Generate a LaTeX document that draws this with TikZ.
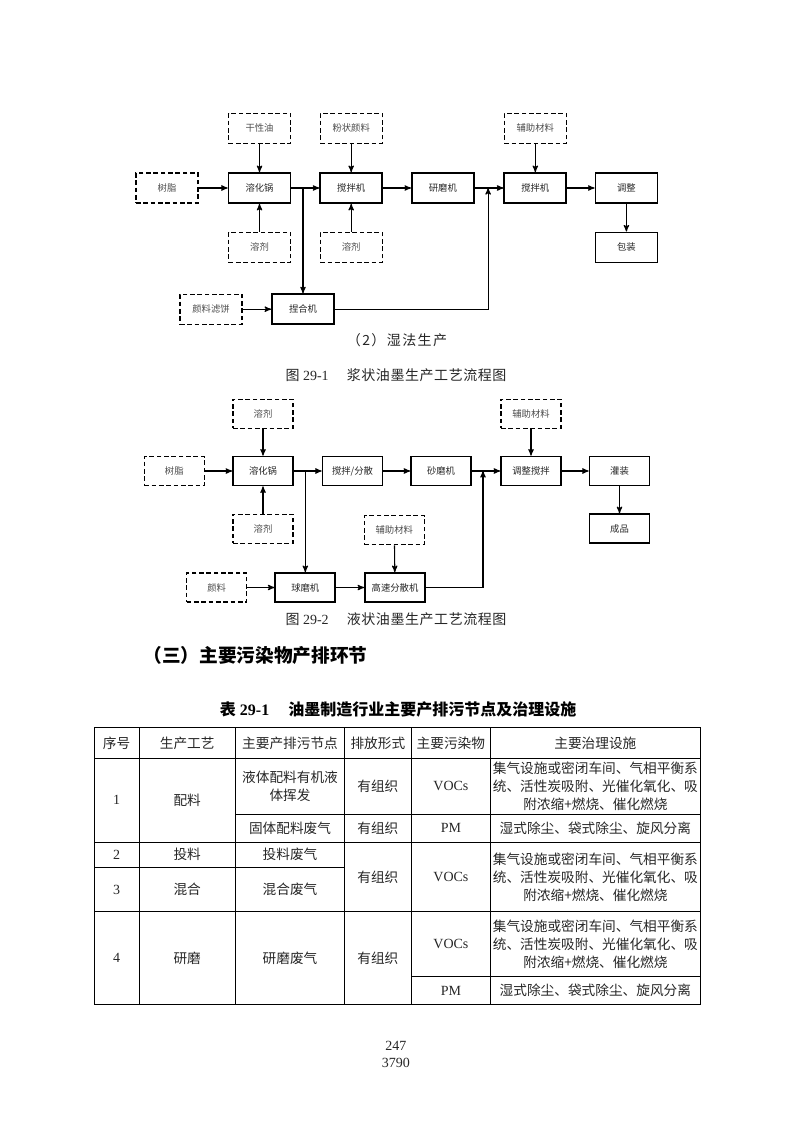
\documentclass[tikz,border=0pt]{standalone}
\usepackage{fontspec}
\setmainfont{Liberation Serif}
\newfontfamily\cjk{Noto Sans CJK SC}
\newfontfamily\cjkwide{Noto Sans CJK SC}[LetterSpace=10]
\newfontfamily\cjkcap{Noto Sans CJK SC}[LetterSpace=4]
\usetikzlibrary{arrows}

\begin{document}
\begin{tikzpicture}[->,>=stealth'
	,x=0.75pt,y=-0.75pt
	,line width=0.8pt]
  \tikzstyle{every node}=[font=\cjk\fontsize{7pt}{8pt}\selectfont]
  \tikzstyle{unit}=[draw,line width=1.3pt,text=black!85,minimum width=46.5pt,minimum height=22.5pt,inner sep=1pt]
  \tikzstyle{feed}=[draw,line width=0.9pt,dash pattern=on 3.5pt off 2pt,text=black!70,minimum width=46.5pt,minimum height=22.5pt,inner sep=1pt]
  \tikzstyle{small}=[minimum width=45pt,minimum height=21.75pt]
  \tikzstyle{caption}=[font=\rmfamily\fontsize{10.5pt}{12pt}\selectfont,text=black!85,inner sep=0pt]
  \tikzstyle{cell}=[font=\cjk\fontsize{10.25pt}{13.5pt}\selectfont,text=black!85,align=center,inner sep=0pt]
  \tikzstyle{lcell}=[font=\rmfamily\fontsize{10.5pt}{13.5pt}\selectfont,text=black!85,inner sep=0pt]
  \tikzstyle{rule}=[-,line width=0.7pt]

  \useasboundingbox (0,0) rectangle (794,1123);

  %wet process, top feeds
  \node[feed] (gxy) at (259.5,128.4) {干性油};
  \node[feed] (fzyl) at (351.2,128.4) {粉状颜料};
  \node[feed] (fzcl) at (535.3,128.4) {辅助材料};
  %main line
  \node[feed] (sz) at (167,188) {树脂};
  \node[unit] (rhg) at (259.5,188) {溶化锅};
  \node[unit] (jbj) at (351.2,188) {搅拌机};
  \node[unit] (ymj) at (442.9,188) {研磨机};
  \node[unit] (jbjb) at (535.3,188) {搅拌机};
  \node[unit] (tz) at (626.4,188) {调整};
  %lower feeds
  \node[feed] (rj) at (259.5,247.4) {溶剂};
  \node[feed] (rjb) at (351.2,247.4) {溶剂};
  \node[unit] (bz) at (626.4,247.4) {包装};
  \node[feed] (ylbl) at (211,309.2) {颜料滤饼};
  \node[unit] (nhj) at (303,309.2) {捏合机};
  \coordinate (ba) at (nhj.north |- rhg.east);
  \coordinate (ma) at (488.1,188);

  \path
	(gxy) edge (rhg)
	(rj) edge (rhg)
	(sz) edge (rhg)
	(rhg) edge (jbj)
	(fzyl) edge (jbj)
	(rjb) edge (jbj)
	(jbj) edge (ymj)
	(ymj) edge (jbjb)
	(fzcl) edge (jbjb)
	(jbjb) edge (tz)
	(tz) edge (bz)
	(ba) edge (nhj)
	(ylbl) edge (nhj);
  \draw (nhj) -| (ma);

  \node[caption,font=\cjkwide\fontsize{10.5pt}{12pt}\selectfont] (capa) at (397,340.6) {（2）湿法生产};
  \node[caption] (capb) at (396,375.6) {{\cjk 图} 29-1\hspace{1.3em}{\cjkcap 浆状油墨生产工艺流程图}};

  %liquid ink, top feeds
  \node[feed,small] (rjc) at (263,413.6) {溶剂};
  \node[feed,small] (fzclb) at (531,413.6) {辅助材料};
  %main line
  \node[feed,small] (szb) at (174.3,471) {树脂};
  \node[unit,small] (rhgb) at (263,471) {溶化锅};
  \node[unit,small] (jbfs) at (352.5,471) {搅拌/分散};
  \node[unit,small] (smj) at (441,471) {砂磨机};
  \node[unit,small] (tzjb) at (531,471) {调整搅拌};
  \node[unit,small] (gz) at (619.5,471) {灌装};
  %lower feeds
  \node[feed,small] (rjd) at (263,528.6) {溶剂};
  \node[feed,small] (fzclc) at (394.3,530.3) {辅助材料};
  \node[unit,small] (cp) at (619.5,528.6) {成品};
  \node[feed,small] (yl) at (216.6,587.5) {颜料};
  \node[unit,small] (qmj) at (305.3,587.5) {球磨机};
  \node[unit,small] (gsfs) at (395,587.5) {高速分散机};
  \coordinate (bb) at (qmj.north |- rhgb.east);
  \coordinate (mb) at (483,471);

  \path
	(rjc) edge (rhgb)
	(rjd) edge (rhgb)
	(szb) edge (rhgb)
	(rhgb) edge (jbfs)
	(jbfs) edge (smj)
	(smj) edge (tzjb)
	(fzclb) edge (tzjb)
	(tzjb) edge (gz)
	(gz) edge (cp)
	(bb) edge (qmj)
	(yl) edge (qmj)
	(qmj) edge (gsfs)
	(fzclc) edge (gsfs);
  \draw (gsfs) -| (mb);

  \node[caption] (capc) at (396,619) {{\cjk 图} 29-2\hspace{1.3em}{\cjkcap 液状油墨生产工艺流程图}};

  \node[anchor=west,inner sep=0pt,text=black,font=\cjk\bfseries\fontsize{14pt}{16pt}\selectfont] (sec) at (143,655) {（三）主要污染物产排环节};
  \node[inner sep=0pt,text=black,font=\rmfamily\bfseries\fontsize{12pt}{14pt}\selectfont] (tabt) at (398.2,709.3) {{\cjk\bfseries 表} 29-1\hspace{1.2em}{\cjk\bfseries 油墨制造行业主要产排污节点及治理设施}};

  %table rules
  \draw[rule] (94,727.3) rectangle (700,1004.3);
  \foreach \c in {139,235.3,344.7,411,490.7}
	\draw[rule] (\c,727.3) -- (\c,1004.3);
  \foreach \r in {758.3,842.3,911.7}
	\draw[rule] (94,\r) -- (700,\r);
  \draw[rule] (235.3,814.3) -- (700,814.3);
  \draw[rule] (94,867.3) -- (344.7,867.3);
  \draw[rule] (411,976.7) -- (700,976.7);

  %header
  \node[cell] (ha) at (116.5,743) {序号};
  \node[cell] (hb) at (187.2,743) {生产工艺};
  \node[cell] (hc) at (290,743) {主要产排污节点};
  \node[cell] (hd) at (377.9,743) {排放形式};
  \node[cell] (he) at (450.9,743) {主要污染物};
  \node[cell] (hf) at (595.4,743) {主要治理设施};
  %row 1
  \node[lcell] (na) at (116.5,800.3) {1};
  \node[cell] (pa) at (187.2,800.3) {配料};
  \node[cell] (ja) at (290,786.3) {液体配料有机液\\体挥发};
  \node[cell] (fa) at (377.9,786.3) {有组织};
  \node[lcell] (wa) at (450.9,786.3) {VOCs};
  \node[cell] (sa) at (595.4,786.3) {集气设施或密闭车间、气相平衡系\\统、活性炭吸附、光催化氧化、吸\\附浓缩+燃烧、催化燃烧};
  \node[cell] (jb) at (290,828.3) {固体配料废气};
  \node[cell] (fb) at (377.9,828.3) {有组织};
  \node[lcell] (wb) at (450.9,828.3) {PM};
  \node[cell] (sb) at (595.4,828.3) {湿式除尘、袋式除尘、旋风分离};
  %rows 2 and 3
  \node[lcell] (nb) at (116.5,854.8) {2};
  \node[cell] (pb) at (187.2,854.8) {投料};
  \node[cell] (jc) at (290,854.8) {投料废气};
  \node[lcell] (nc) at (116.5,889.5) {3};
  \node[cell] (pc) at (187.2,889.5) {混合};
  \node[cell] (jd) at (290,889.5) {混合废气};
  \node[cell] (fc) at (377.9,877) {有组织};
  \node[lcell] (wc) at (450.9,877) {VOCs};
  \node[cell] (sc) at (595.4,877) {集气设施或密闭车间、气相平衡系\\统、活性炭吸附、光催化氧化、吸\\附浓缩+燃烧、催化燃烧};
  %row 4
  \node[lcell] (nd) at (116.5,958) {4};
  \node[cell] (pd) at (187.2,958) {研磨};
  \node[cell] (je) at (290,958) {研磨废气};
  \node[cell] (fd) at (377.9,958) {有组织};
  \node[lcell] (wd) at (450.9,944.2) {VOCs};
  \node[cell] (sd) at (595.4,944.2) {集气设施或密闭车间、气相平衡系\\统、活性炭吸附、光催化氧化、吸\\附浓缩+燃烧、催化燃烧};
  \node[lcell] (we) at (450.9,990.5) {PM};
  \node[cell] (se) at (595.4,990.5) {湿式除尘、袋式除尘、旋风分离};

  \node[caption] (pga) at (395.8,1046) {247};
  \node[caption] (pgb) at (395.8,1062.5) {3790};
\end{tikzpicture}
\end{document}
